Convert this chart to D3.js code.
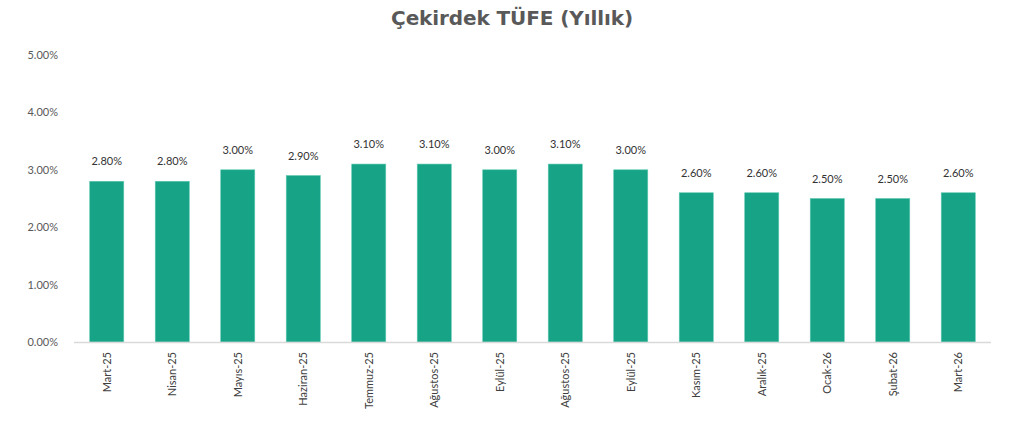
<!DOCTYPE html>
<html>
<head>
<meta charset="utf-8">
<script src="https://cdn.jsdelivr.net/npm/d3@7"></script>
<style>
    body { margin: 0; background: #fff; }
    svg text { font-family: "Lato", "Open Sans", sans-serif; }
</style>
</head>
<body>
<svg id="chart" width="1030" height="431"></svg>
<script>
"use strict";

// 数据
const months = [
    "Mart-25", "Nisan-25", "Mayıs-25", "Haziran-25", "Temmuz-25", "Ağustos-25", "Eylül-25",
    "Ağustos-25", "Eylül-25", "Kasım-25", "Aralık-25", "Ocak-26", "Şubat-26", "Mart-26"
];
const coreCpi = [2.8, 2.8, 3.0, 2.9, 3.1, 3.1, 3.0, 3.1, 3.0, 2.6, 2.6, 2.5, 2.5, 2.6];
const yTicks = [0, 1, 2, 3, 4, 5];
const title = "Çekirdek TÜFE (Yıllık)";

const svg = d3.select("#chart");
const padding = { top: 55, right: 39, bottom: 89, left: 74 };
const width = 1030, height = 431;

const x = d3.scaleBand()
    .domain(d3.range(months.length))
    .range([padding.left, width - padding.right])
    .paddingInner(0.48)
    .paddingOuter(0.24);

const y = d3.scaleLinear()
    .domain([0, 5])
    .range([height - padding.bottom, padding.top]);

// 标题
svg.append("text")
    .attr("x", 512)
    .attr("y", 25)
    .attr("text-anchor", "middle")
    .style("font-family", "'DejaVu Sans', sans-serif")
    .style("font-size", "20px")
    .style("font-weight", "bold")
    .style("letter-spacing", "-0.1px")
    .style("fill", "#595959")
    .text(title);

// y 轴
const yAxis = svg.append("g")
    .attr("transform", "translate(" + padding.left + ",0)")
    .call(d3.axisLeft(y).tickValues(yTicks).tickSize(0).tickPadding(16)
        .tickFormat(d => d.toFixed(2) + "%"));
yAxis.select(".domain").remove();
yAxis.selectAll("text")
    .style("font-size", "11px")
    .style("fill", "#595959");

// 柱子
svg.selectAll(".bar")
    .data(coreCpi)
    .enter()
    .append("rect")
    .attr("class", "bar")
    .attr("x", (d, i) => x(i))
    .attr("y", d => y(d))
    .attr("width", x.bandwidth())
    .attr("height", d => y(0) - y(d))
    .style("fill", "#16a386")
    .style("stroke", "#5fc9b0")
    .style("stroke-width", 0.6);

// 数值标签
svg.selectAll(".val")
    .data(coreCpi)
    .enter()
    .append("text")
    .attr("class", "val")
    .attr("x", (d, i) => x(i) + x.bandwidth() / 2)
    .attr("y", d => y(d) - 16)
    .attr("text-anchor", "middle")
    .style("font-size", "11px")
    .style("fill", "#333333")
    .text(d => d.toFixed(2) + "%");

// x 轴
const xAxis = svg.append("g")
    .attr("transform", "translate(0," + y(0) + ")")
    .call(d3.axisBottom(x).tickSize(0).tickFormat(i => months[i]));
xAxis.select(".domain")
    .attr("d", "M" + padding.left + ",0.5H" + (width - padding.right))
    .style("stroke", "#d9d9d9")
    .style("stroke-width", 1.5);
xAxis.selectAll("text")
    .attr("transform", "rotate(-90)")
    .attr("x", -10)
    .attr("y", 0)
    .attr("dy", "0.35em")
    .attr("text-anchor", "end")
    .style("font-size", "11px")
    .style("fill", "#404040");
</script>
</body>
</html>
